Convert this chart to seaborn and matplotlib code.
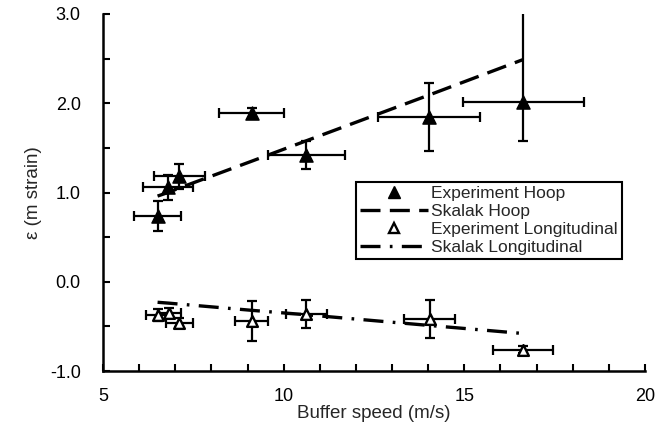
import matplotlib
matplotlib.use("Agg")
import matplotlib.pyplot as plt
import seaborn as sns
import pandas as pd
from matplotlib.lines import Line2D
from matplotlib.ticker import MultipleLocator

# ---- data ----
hoop_x = [6.51, 6.80, 7.11, 9.11, 10.63, 14.01, 16.63]
hoop_y = [0.74, 1.06, 1.18, 1.89, 1.42, 1.85, 2.01]
hoop_xerr = [0.66, 0.68, 0.71, 0.91, 1.06, 1.41, 1.67]
hoop_yerr_lo = [0.17, 0.14, 0.14, 0.06, 0.16, 0.38, 0.43]
hoop_yerr_hi = [0.17, 0.14, 0.14, 0.06, 0.16, 0.38, 1.20]
skalak_hoop_y = [0.96, 1.00, 1.05, 1.35, 1.58, 2.09, 2.49]

long_x = [6.51, 6.83, 7.11, 9.11, 10.63, 14.04, 16.63]
long_y = [-0.37, -0.35, -0.46, -0.44, -0.36, -0.42, -0.76]
long_xerr = [0.31, 0.32, 0.37, 0.46, 0.56, 0.70, 0.83]
long_yerr = [0.07, 0.06, 0.05, 0.22, 0.16, 0.21, 0.04]
skalak_long_y = [-0.23, -0.24, -0.25, -0.32, -0.37, -0.49, -0.58]

x_ticks = [5, 10, 15, 20]
y_ticks = [-1.0, 0.0, 1.0, 2.0, 3.0]

sns.set_style("ticks")
plt.rcParams['font.family'] = ['Liberation Sans', 'DejaVu Sans']

hoop_df = pd.DataFrame({"x": hoop_x, "y": hoop_y, "model": skalak_hoop_y})
long_df = pd.DataFrame({"x": long_x, "y": long_y, "model": skalak_long_y})

DASH = (0, (6, 2.8))
DASHDOT = (0, (6, 2.8, 0.8, 2.8))

fig = plt.figure(figsize=(6.57, 4.45), dpi=100)
ax = fig.add_axes([103/657, 1-371/445, (645-103)/657, (371-14)/445])

# model lines
sns.lineplot(data=hoop_df, x="x", y="model", ax=ax, color="black", lw=2.4,
             linestyle=DASH, sort=True, zorder=2)
sns.lineplot(data=long_df, x="x", y="model", ax=ax, color="black", lw=2.4,
             linestyle=DASHDOT, sort=True, zorder=2)

# error bars
ax.errorbar(hoop_x, hoop_y, xerr=hoop_xerr, yerr=[hoop_yerr_lo, hoop_yerr_hi],
            fmt="none", ecolor="black", elinewidth=1.6, capsize=3.5, capthick=1.6, zorder=3)
ax.errorbar(long_x, long_y, xerr=long_xerr, yerr=long_yerr,
            fmt="none", ecolor="black", elinewidth=1.6, capsize=3.5, capthick=1.6, zorder=3)

# markers
sns.scatterplot(data=hoop_df, x="x", y="y", ax=ax, marker="^", s=90,
                color="black", edgecolor="black", linewidth=1, zorder=4)
sns.scatterplot(data=long_df, x="x", y="y", ax=ax, marker="^", s=60,
                facecolor="white", edgecolor="black", linewidth=1.7, zorder=4)

ax.set_xlim(5, 20)
ax.set_ylim(-1.0, 3.0)
ax.set_xticks(x_ticks)
ax.set_xticklabels([str(v) for v in x_ticks])
ax.xaxis.set_minor_locator(MultipleLocator(1))
ax.set_yticks(y_ticks)
ax.set_yticklabels([f"{v:.1f}" for v in y_ticks])
ax.yaxis.set_minor_locator(MultipleLocator(0.5))

for s in ["top", "right"]:
    ax.spines[s].set_visible(False)
for s in ["left", "bottom"]:
    ax.spines[s].set_linewidth(1.8)
    ax.spines[s].set_color("black")

ax.tick_params(axis="both", which="both", direction="in", width=1.5, colors="black",
               labelsize=13)
ax.tick_params(axis="both", which="major", length=5)
ax.tick_params(axis="both", which="minor", length=5)
ax.tick_params(axis="x", which="major", pad=12)
ax.tick_params(axis="y", which="major", pad=16)

ax.set_xlabel("Buffer speed (m/s)", fontsize=13.5, labelpad=0)
ax.set_ylabel("ε (m strain)", fontsize=13.5, labelpad=6)

handles = [
    Line2D([], [], marker="^", color="black", linestyle="none", markersize=8),
    Line2D([], [], color="black", lw=2.4, linestyle=DASH),
    Line2D([], [], marker="^", color="black", markerfacecolor="white",
           markeredgewidth=1.7, linestyle="none", markersize=6.5),
    Line2D([], [], color="black", lw=2.4, linestyle=DASHDOT),
]
labels = ["Experiment Hoop", "Skalak Hoop", "Experiment Longitudinal", "Skalak Longitudinal"]
leg = ax.legend(handles, labels, loc="upper left",
                bbox_to_anchor=((356-103)/542, (371-182)/357),
                fontsize=12.5, frameon=True, fancybox=False, edgecolor="black",
                framealpha=1, handlelength=3.9, handletextpad=0.15,
                labelspacing=0.15, borderpad=0.25, borderaxespad=0)
leg.get_frame().set_linewidth(1.5)

fig.savefig("out.png", dpi=100)
